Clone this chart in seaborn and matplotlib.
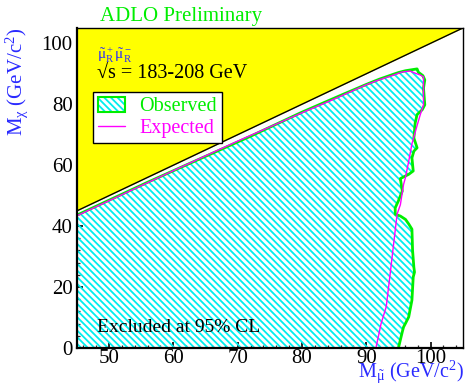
import numpy as np
import pandas as pd
import matplotlib
matplotlib.use("Agg")
import matplotlib.pyplot as plt
import seaborn as sns
from matplotlib.patches import Patch
from matplotlib.lines import Line2D
from matplotlib.ticker import MultipleLocator

# ---------------- data ----------------
kin_x = [45, 105]
kin_y = [45, 105]

obs_x = [45, 56, 65, 72, 80, 86, 90, 92, 94.3, 95, 96.1, 97.9,
         98.1, 98.8, 99.1, 98.9, 99.1, 98.7, 97.9, 97.6, 97.4, 97.9, 97.4, 97.1,
         97.3, 96.6, 95.3, 95.6, 95.0, 94.5, 94.5, 95.3, 96.1, 96.6, 97.1, 97.2,
         97.4, 97.5, 97.3, 97.1, 96.6, 96.1, 95.8, 95.6, 95.0]
obs_y = [43.6, 54.4, 62.9, 69.5, 77.4, 82.9, 86.5, 88.2, 89.9, 90.4, 91.0, 91.6,
         90.5, 89.4, 88.0, 85.3, 79.8, 78.2, 76.6, 73.8, 68.9, 65.7, 64.6, 62.4,
         58.1, 57.0, 55.6, 51.5, 48.3, 46.0, 43.9, 43.3, 42.2, 40.7, 39.0, 32.0,
         26.5, 24.9, 23.3, 15.7, 10.2, 8.1, 6.9, 5.3, 0.0]

exp_x = [45, 60, 70, 80, 85, 90, 92, 94, 95.6, 96.8, 97.6, 98.4, 98.9, 98.9,
         98.9, 98.4, 97.9, 97.1, 96.6, 96.1, 95.8, 95.3, 94.8, 94.3, 93.75, 93.1,
         92.3, 91.5]
exp_y = [43.4, 58.2, 67.9, 77.2, 81.7, 86.4, 88.0, 89.4, 90.6, 90.9, 90.2, 89.6,
         89.0, 86.4, 79.8, 76.6, 73.0, 67.0, 61.3, 56.0, 53.7, 47.0, 44.0, 35.0,
         25.0, 13.5, 8.0, 0.0]

x_ticks = [50, 60, 70, 80, 90, 100]
y_ticks = [0, 20, 40, 60, 80, 100]

# ---------------- style ----------------
sns.set_theme(style="ticks")
plt.rcParams['font.family'] = ['Liberation Serif', 'DejaVu Serif']
plt.rcParams['mathtext.fontset'] = 'custom'
plt.rcParams['mathtext.rm'] = 'Liberation Serif'
plt.rcParams['mathtext.it'] = 'Liberation Serif'
plt.rcParams['hatch.linewidth'] = 1.3

YELLOW = '#ffff00'
GREEN = '#00ee00'
CYAN = '#00eeee'
MAGENTA = '#ff00ff'
BLUE = '#2a2aff'
HATCH = '\\\\\\\\\\'

fig = plt.figure(figsize=(4.66, 3.85), dpi=100)
ax = fig.add_axes([0.165, 0.0961, 0.828, 0.831])

# kinematically forbidden region
kx = np.array(kin_x, dtype=float)
ky = np.array(kin_y, dtype=float)
ax.fill_between(kx, ky, 105, color=YELLOW, linewidth=0, zorder=1)
ax.plot(kx, ky, color='black', lw=1.0, zorder=2)

# observed excluded region (hatched)
poly_x = [45] + obs_x + [45]
poly_y = [0] + obs_y + [0]
ax.fill(poly_x, poly_y, facecolor='none', edgecolor=CYAN,
        hatch=HATCH, linewidth=0, zorder=2)

obs_df = pd.DataFrame({'x': obs_x, 'y': obs_y})
exp_df = pd.DataFrame({'x': exp_x, 'y': exp_y})
sns.lineplot(data=obs_df, x='x', y='y', sort=False, estimator=None,
             color=GREEN, lw=2.0, ax=ax, zorder=3)
sns.lineplot(data=exp_df, x='x', y='y', sort=False, estimator=None,
             color=MAGENTA, lw=1.0, ax=ax, zorder=4)

ax.set_xlim(45, 105)
ax.set_ylim(0, 105)
ax.set_xlabel('')
ax.set_ylabel('')
ax.set_xticks(x_ticks)
ax.set_yticks(y_ticks)
ax.xaxis.set_minor_locator(MultipleLocator(2))
ax.yaxis.set_minor_locator(MultipleLocator(4))
ax.tick_params(axis='both', which='major', direction='in', length=4.5, width=1.2,
               labelsize=15, colors='black', top=False, right=False)
ax.tick_params(axis='both', which='minor', direction='in', length=2.5, width=0.9,
               top=False, right=False)
ax.tick_params(axis='x', pad=1.0)
ax.tick_params(axis='y', pad=3.0)
for s in ['left', 'bottom']:
    ax.spines[s].set_linewidth(1.6)
for s in ['top', 'right']:
    ax.spines[s].set_linewidth(1.0)
for s in ax.spines.values():
    s.set_color('black')
    s.set_zorder(5)

# texts
fig.text(181 / 466, 1 - 16 / 385, 'ADLO Preliminary', color=GREEN,
         fontsize=15, ha='center', va='center')
fig.text(17 / 466, 1 - 82 / 385, r'M$_{\chi}$ (GeV/c$^2$)', color=BLUE,
         fontsize=15, rotation=90, ha='center', va='center')
fig.text(464 / 466, 1 - 385 / 385, r'M$_{\tilde{\mu}}$ (GeV/c$^2$)', color=BLUE,
         fontsize=14.5, ha='right', va='bottom')

ax.text(0.052, 0.915, r'$\tilde{\mu}^+_{\mathrm{R}}\tilde{\mu}^-_{\mathrm{R}}$', color=BLUE,
        fontsize=11, transform=ax.transAxes, ha='left', va='center', zorder=6)
ax.text(0.052, 0.855, '\u221as = 183-208 GeV', color='black',
        fontsize=14.5, transform=ax.transAxes, ha='left', va='center', zorder=6)
ax.text(0.052, 0.065, 'Excluded at 95% CL', color='black',
        fontsize=14, transform=ax.transAxes, ha='left', va='center', zorder=6)

# legend
h_hatch = Patch(facecolor='white', edgecolor=CYAN, hatch=HATCH, linewidth=0)
h_edge = Patch(facecolor='none', edgecolor=GREEN, linewidth=1.5)
h_line = Line2D([], [], color=MAGENTA, lw=1.0)
leg = ax.legend([(h_hatch, h_edge), h_line], ['Observed', 'Expected'],
                loc='upper left', bbox_to_anchor=(0.041, 0.80), borderaxespad=0,
                frameon=True, fancybox=False, framealpha=1, edgecolor='black',
                fontsize=14.5, handlelength=1.35, handleheight=0.75, handletextpad=0.7,
                borderpad=0.25, labelspacing=0.1)
leg.get_frame().set_linewidth(1.0)
leg.set_zorder(7)
for t, c in zip(leg.get_texts(), [GREEN, MAGENTA]):
    t.set_color(c)

fig.savefig('out.png', dpi=100)
